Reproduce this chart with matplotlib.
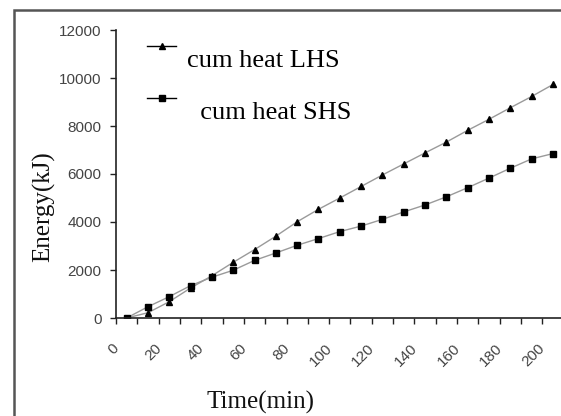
import numpy as np
import matplotlib
matplotlib.use("Agg")
import matplotlib.pyplot as plt
from matplotlib.patches import Rectangle
from matplotlib.transforms import ScaledTranslation

# cumulative heat (kJ), one point every 10 min
time_min = list(range(0, 201, 10))
cum_heat_lhs = [0, 220, 680, 1250, 1760, 2320, 2850, 3410, 4010, 4530, 5000,
                5480, 5960, 6420, 6880, 7330, 7820, 8280, 8760, 9230, 9730]
cum_heat_shs = [0, 470, 890, 1350, 1700, 1990, 2400, 2710, 3030, 3310, 3600,
                3830, 4110, 4420, 4710, 5050, 5430, 5830, 6240, 6630, 6850]
y_ticks = [0, 2000, 4000, 6000, 8000, 10000, 12000]

W, H = 561, 416
fig = plt.figure(figsize=(W / 100, H / 100), dpi=100)

# frame round the whole picture (cut at right and bottom)
fig.patches.append(Rectangle((14 / W, -0.1), 1.2, 1 - 10 / H + 0.1,
                             transform=fig.transFigure, fill=False,
                             edgecolor="#555555", lw=1.8))

# axes: category axis, points in the middle of each slot
ax = fig.add_axes([116 / W, 1 - 318 / H, (563.6 - 116) / W, 288 / H])
idx = np.arange(len(time_min))
ax.plot(idx, cum_heat_lhs, color="#9a9a9a", lw=1.0, marker="^", ms=4.5,
        mfc="black", mec="black", label="\ncum heat LHS")
ax.plot(idx, cum_heat_shs, color="#9a9a9a", lw=1.0, marker="s", ms=4.0,
        mfc="black", mec="black", label="\n  cum heat SHS")

ax.set_xlim(-0.5, len(time_min) - 0.5)
ax.set_ylim(0, 12000)
for s in ["top", "right"]:
    ax.spines[s].set_visible(False)
for s in ["left", "bottom"]:
    ax.spines[s].set_color("#222222")
    ax.spines[s].set_linewidth(1.2)

tick_font = {"family": "Liberation Sans", "size": 11, "color": "#444444"}
ax.set_yticks(y_ticks)
ax.set_yticklabels([str(v) for v in y_ticks], **tick_font)
ax.tick_params(axis="y", direction="out", length=4.5, width=1.0,
               color="#222222", pad=6)

ax.set_xticks(idx[::2])
ax.set_xticklabels([str(t) for t in time_min[::2]], rotation=45,
                   ha="right", va="center", rotation_mode="anchor", **tick_font)
ax.tick_params(axis="x", which="major", length=0, pad=20)
ax.set_xticks(np.arange(-0.5, len(time_min), 1), minor=True)
ax.tick_params(axis="x", which="minor", direction="out", length=4.5,
               width=1.0, color="#222222")
shift = ScaledTranslation(-10 / 100, 0, fig.dpi_scale_trans)
for lab in ax.get_xticklabels():
    lab.set_transform(lab.get_transform() + shift)

serif = {"family": "Liberation Serif", "size": 18, "color": "#111111"}
ax.set_ylabel("Energy(kJ)", labelpad=3, y=0.385, **serif)
ax.set_xlabel("Time(min)", labelpad=16, x=0.322, **serif)

leg = ax.legend(loc="upper left", bbox_to_anchor=(147 / W, 1 - 21 / H),
                bbox_transform=fig.transFigure, frameon=False,
                prop={"family": "Liberation Serif", "size": 19},
                handlelength=1.1, handletextpad=0.4, labelspacing=0.06,
                borderpad=0, borderaxespad=0)
for line in leg.get_lines():
    line.set_color("black")
for t in leg.get_texts():
    t.set_linespacing(1.4)

fig.savefig("out.png", dpi=100)
